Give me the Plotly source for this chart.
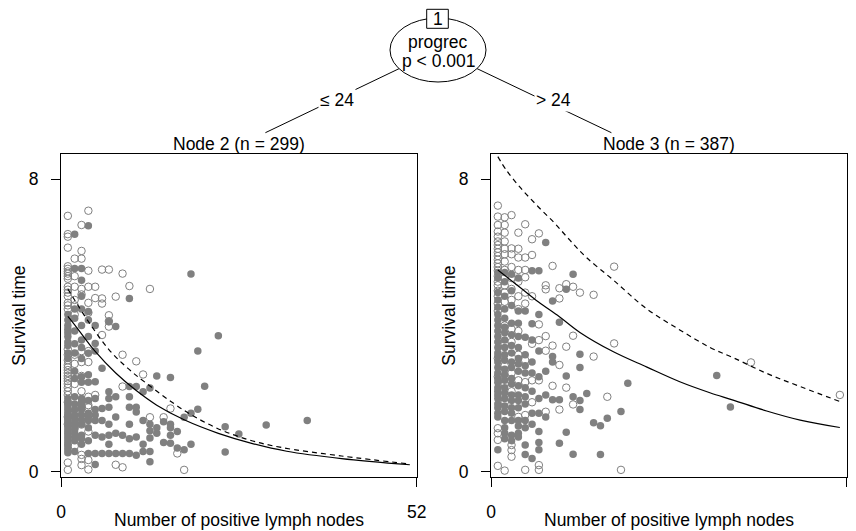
import plotly.graph_objects as go

# ---------------- data ----------------
# Node 2 (progrec <= 24): (number of positive lymph nodes, survival time)
node2_censored = [
    (1, 7.0), (1, 6.5), (1, 6.43), (1, 6.13), (1, 5.62), (1, 5.55), (1, 5.48), (1, 5.42), (1, 5.35),
    (1, 5.28), (1, 5.06), (1, 4.98), (1, 4.9), (1, 4.8), (1, 4.62), (1, 4.55), (1, 4.45), (1, 3.35),
    (1, 3.2), (1, 3.05), (1, 2.92), (1, 2.85), (1, 2.78), (1, 2.7), (1, 2.62), (1, 2.55), (1, 2.48),
    (1, 2.4), (1, 2.3), (1, 2.2), (1, 2.1), (1, 1.9), (1, 1.5), (1, 1.3), (1, 0.25), (1, 0.05),
    (2, 5.83), (2, 5.35), (2, 5.06), (2, 4.7), (2, 4.55), (2, 4.3), (2, 3.2), (2, 2.95), (2, 2.4),
    (2, 1.6), (2, 1.2), (2, 0.7),
    (3, 6.75), (3, 6.04), (3, 5.83), (3, 5.0), (3, 4.85), (3, 3.3), (3, 3.0), (3, 2.62), (3, 2.2),
    (3, 1.76), (3, 1.29), (3, 0.46), (3, 0.35), (3, 0.18),
    (4, 7.14), (4, 5.5), (4, 5.06), (4, 4.62), (4, 4.35), (4, 3.3), (4, 3.0), (4, 2.05), (4, 1.82),
    (4, 1.76), (4, 1.1), (4, 0.32), (4, 0.06),
    (5, 5.06), (5, 4.75), (5, 2.1),
    (6, 5.53), (6, 4.74), (6, 4.6), (6, 3.74),
    (7, 5.53), (7, 4.28), (7, 4.12), (7, 3.97),
    (8, 4.79), (8, 0.19),
    (9, 5.42), (9, 3.2), (9, 2.33), (9, 0.12),
    (10, 5.08), (11, 3.02), (12, 2.66), (13, 5.0), (13, 1.49), (15, 1.49), (16, 1.73), (17, 0.5), (18, 0.05),
]
node2_event = [
    (1, 4.3), (1, 4.15), (1, 4.0), (1, 3.9), (1, 3.8), (1, 3.7), (1, 3.55), (1, 3.45), (1, 3.25), (1, 3.1),
    (1, 2.0), (1, 1.9), (1, 1.85), (1, 1.78), (1, 1.7), (1, 1.62), (1, 1.55), (1, 1.48), (1, 1.42),
    (1, 1.35), (1, 1.28), (1, 1.2), (1, 1.12), (1, 1.05), (1, 0.98), (1, 0.9), (1, 0.82), (1, 0.75),
    (1, 0.68), (1, 0.6), (1, 0.52),
    (2, 6.5), (2, 5.56), (2, 4.45), (2, 4.2), (2, 3.85), (2, 3.5), (2, 3.25), (2, 2.75), (2, 2.55),
    (2, 2.05), (2, 1.85), (2, 1.7), (2, 1.55), (2, 1.45), (2, 1.35), (2, 1.25), (2, 1.15), (2, 1.05),
    (2, 0.95), (2, 0.85), (2, 0.55),
    (3, 5.56), (3, 5.24), (3, 4.8), (3, 4.45), (3, 4.0), (3, 3.6), (3, 3.4), (3, 3.1), (3, 2.6), (3, 2.45),
    (3, 2.0), (3, 1.9), (3, 1.8), (3, 1.7), (3, 1.55), (3, 1.42), (3, 1.3), (3, 1.0), (3, 0.9), (3, 0.75),
    (4, 6.73), (4, 4.38), (4, 4.15), (4, 3.7), (4, 3.24), (4, 2.65), (4, 2.45), (4, 1.95), (4, 1.6),
    (4, 1.5), (4, 1.4), (4, 1.2), (4, 0.85), (4, 0.5),
    (5, 4.0), (5, 3.51), (5, 3.3), (5, 2.46), (5, 2.0), (5, 1.7), (5, 1.55), (5, 1.4), (5, 1.0), (5, 0.5), (5, 0.2),
    (6, 2.83), (6, 1.73), (6, 1.4), (6, 0.95), (6, 0.5),
    (7, 4.1), (7, 2.19), (7, 2.0), (7, 1.76), (7, 1.3), (7, 1.0), (7, 0.75), (7, 0.5),
    (8, 3.97), (8, 2.05), (8, 1.5), (8, 1.05), (8, 0.5),
    (9, 1.0), (9, 0.5),
    (10, 4.74), (10, 2.33), (10, 2.05), (10, 1.76), (10, 1.3), (10, 0.9), (10, 0.5),
    (11, 2.33), (11, 1.76), (11, 1.63), (11, 0.95), (11, 0.45),
    (12, 2.19), (12, 1.4), (12, 0.75), (12, 0.55),
    (13, 2.29), (13, 1.3), (13, 1.12), (13, 0.92), (13, 0.55), (13, 0.27),
    (14, 2.62), (14, 1.2), (14, 1.05),
    (15, 1.37), (15, 0.8),
    (16, 2.58), (16, 1.3), (16, 1.2), (16, 1.0), (16, 0.78),
    (17, 1.1), (17, 0.65),
    (18, 1.49), (18, 0.6),
    (19, 5.41), (19, 1.6), (19, 0.75),
    (20, 3.3), (20, 1.71),
    (21, 2.34), (23, 3.72), (24, 1.23), (24, 0.54), (26, 1.03), (30, 1.28), (36, 1.4),
]

# Node 3 (progrec > 24)
node3_censored = [
    (1, 7.28), (1, 6.98), (1, 6.75), (1, 6.57), (1, 6.43), (1, 6.3), (1, 6.2), (1, 6.1), (1, 6.0), (1, 5.9),
    (1, 5.8), (1, 5.7), (1, 5.6), (1, 5.5), (1, 5.35), (1, 5.2), (1, 5.1), (1, 4.95), (1, 4.8), (1, 4.6),
    (1, 4.4), (1, 3.1), (1, 2.6), (1, 1.19), (1, 1.05), (1, 0.87), (1, 0.16),
    (2, 6.96), (2, 6.75), (2, 6.54), (2, 6.3), (2, 6.1), (2, 5.95), (2, 5.75), (2, 5.52), (2, 5.3),
    (2, 5.1), (2, 4.9), (2, 4.65), (2, 4.0), (2, 3.5), (2, 2.9), (2, 2.4), (2, 1.9), (2, 0.03),
    (3, 7.02), (3, 6.11), (3, 5.95), (3, 5.6), (3, 5.3), (3, 5.0), (3, 4.7), (3, 3.9), (3, 3.55), (3, 2.7),
    (3, 2.2), (3, 0.73), (3, 0.59), (3, 0.41),
    (4, 6.54), (4, 6.1), (4, 5.86), (4, 5.52), (4, 5.2), (4, 4.8), (4, 4.45), (4, 3.85), (4, 3.2), (4, 2.5), (4, 1.5),
    (5, 6.77), (5, 5.86), (5, 5.52), (5, 5.32), (5, 4.9), (5, 4.6), (5, 3.05), (5, 2.45), (5, 1.55), (5, 0.05),
    (6, 6.36), (6, 5.93), (6, 4.8), (6, 3.5), (6, 2.5), (6, 1.9),
    (7, 6.52), (7, 4.03), (7, 3.6), (7, 2.5), (7, 0.18), (7, 0.05),
    (8, 5.1), (8, 4.99), (8, 3.71), (8, 3.31), (8, 1.64),
    (9, 5.63), (9, 3.45), (9, 2.35),
    (10, 5.02), (10, 4.74), (10, 2.92), (10, 1.7),
    (11, 5.13), (11, 3.42), (11, 2.3),
    (12, 5.06), (12, 3.72), (12, 1.84),
    (13, 4.9), (15, 4.84), (15, 3.15), (17, 2.05), (18, 5.61), (18, 3.51), (19, 0.05),
    (38, 2.99), (51, 2.1),
]
node3_event = [
    (1, 5.45), (1, 5.3), (1, 4.9), (1, 4.7), (1, 4.5), (1, 4.3), (1, 4.15), (1, 4.0), (1, 3.85), (1, 3.7),
    (1, 3.55), (1, 3.4), (1, 3.25), (1, 3.15), (1, 3.0), (1, 2.85), (1, 2.7), (1, 2.55), (1, 2.45), (1, 2.3),
    (1, 2.2), (1, 2.1), (1, 2.0), (1, 1.85), (1, 1.75), (1, 1.6), (1, 1.5), (1, 0.6),
    (2, 5.45), (2, 5.2), (2, 4.8), (2, 4.45), (2, 4.2), (2, 3.95), (2, 3.8), (2, 3.6), (2, 3.4), (2, 3.2),
    (2, 3.05), (2, 2.8), (2, 2.65), (2, 2.5), (2, 2.3), (2, 2.15), (2, 2.0), (2, 1.8), (2, 1.65), (2, 1.4),
    (2, 1.2), (2, 1.05), (2, 0.9),
    (3, 5.4), (3, 4.95), (3, 4.55), (3, 4.06), (3, 3.75), (3, 3.45), (3, 3.25), (3, 3.0), (3, 2.85), (3, 2.55),
    (3, 2.4), (3, 2.1), (3, 1.95), (3, 1.75), (3, 1.6), (3, 1.4), (3, 1.0), (3, 0.85),
    (4, 5.3), (4, 4.4), (4, 4.06), (4, 3.7), (4, 3.4), (4, 3.1), (4, 2.95), (4, 2.75), (4, 2.35), (4, 2.1),
    (4, 1.95), (4, 1.75), (4, 1.4), (4, 1.25), (4, 1.05), (4, 0.95),
    (5, 4.4), (5, 3.68), (5, 3.2), (5, 2.9), (5, 2.7), (5, 2.3), (5, 2.05), (5, 1.85), (5, 1.4), (5, 1.2), (5, 0.73), (5, 0.47),
    (6, 5.5), (6, 4.05), (6, 3.6), (6, 3.0), (6, 2.7), (6, 2.2), (6, 1.6), (6, 1.3), (6, 0.36),
    (7, 5.5), (7, 4.3), (7, 3.3), (7, 2.6), (7, 2.0), (7, 1.6), (7, 1.1), (7, 0.8), (7, 0.6),
    (8, 6.27), (8, 2.75), (8, 2.1), (8, 1.5),
    (9, 4.67), (9, 3.15), (9, 3.0), (9, 1.97),
    (10, 4.09), (10, 1.97), (10, 0.78),
    (11, 4.99), (11, 2.62), (11, 1.08),
    (12, 5.4), (12, 2.05), (12, 0.48),
    (13, 3.21), (13, 2.85), (13, 1.95), (13, 1.7),
    (14, 2.14), (15, 1.34), (16, 1.26), (16, 0.47), (17, 1.46), (19, 1.65), (20, 2.42), (33, 2.63), (35, 1.77),
]

# fitted curves
node2_solid_x = [1, 2, 5, 8, 11, 14, 18, 23, 28, 33, 41, 51]
node2_solid_y = [4.25, 4.02, 3.29, 2.70, 2.22, 1.82, 1.42, 1.05, 0.77, 0.56, 0.36, 0.19]
node2_dashed_x = [1, 4, 7, 9.7, 12.4, 17.9, 22.8, 27.5, 32, 41, 51]
node2_dashed_y = [5.0, 4.11, 3.34, 2.84, 2.43, 1.69, 1.19, 0.87, 0.67, 0.43, 0.21]
node3_solid_x = [1, 4.4, 6.9, 10, 13, 17.9, 22.8, 27.6, 32, 35.4, 40.3, 45.2, 51]
node3_solid_y = [5.52, 5.02, 4.65, 4.24, 3.81, 3.28, 2.86, 2.46, 2.16, 1.96, 1.66, 1.41, 1.21]
node3_dashed_x = [1, 2.24, 4.4, 6.9, 9.3, 11.5, 13.9, 17.9, 22.8, 27.6, 32, 35.4, 40.3, 45.2, 51]
node3_dashed_y = [8.62, 8.25, 7.75, 7.25, 6.8, 6.34, 5.87, 5.24, 4.45, 3.88, 3.4, 3.12, 2.69, 2.33, 1.92]

x_ticks = [0, 52]
y_ticks = [0, 8]
x_title = "Number of positive lymph nodes"
y_title = "Survival time"
node_titles = ["Node 2 (n = 299)", "Node 3 (n = 387)"]
split_var = "progrec"
split_p = "p < 0.001"
split_labels = ["≤ 24", "> 24"]

# ---------------- figure ----------------
W, H = 856, 531
FONT = "Liberation Sans, Arial, Helvetica, sans-serif"
FS = 17.5
GREY = "rgb(128,128,128)"


def px(x):
    return x / W


def py(y):
    return 1 - y / H


fig = go.Figure()

panels = [
    ("x", "y", node2_censored, node2_event, node2_solid_x, node2_solid_y, node2_dashed_x, node2_dashed_y),
    ("x2", "y2", node3_censored, node3_event, node3_solid_x, node3_solid_y, node3_dashed_x, node3_dashed_y),
]
for xa, ya, cens, evt, sx, sy, dx, dy in panels:
    fig.add_trace(go.Scatter(
        x=[p[0] for p in cens], y=[p[1] for p in cens], mode="markers", xaxis=xa, yaxis=ya,
        marker=dict(symbol="circle-open", size=7.5, color=GREY, line=dict(width=1, color=GREY)),
        showlegend=False, hoverinfo="skip", cliponaxis=True))
    fig.add_trace(go.Scatter(
        x=[p[0] for p in evt], y=[p[1] for p in evt], mode="markers", xaxis=xa, yaxis=ya,
        marker=dict(symbol="circle", size=7.5, color=GREY, line=dict(width=0)),
        showlegend=False, hoverinfo="skip", cliponaxis=True))
    fig.add_trace(go.Scatter(
        x=sx, y=sy, mode="lines", xaxis=xa, yaxis=ya, line=dict(color="black", width=1.2, shape="spline"),
        showlegend=False, hoverinfo="skip"))
    fig.add_trace(go.Scatter(
        x=dx, y=dy, mode="lines", xaxis=xa, yaxis=ya,
        line=dict(color="black", width=1.2, shape="spline", dash="5px,4px"),
        showlegend=False, hoverinfo="skip"))

# panel geometry (pixels)
box_top, box_bottom = 154.3, 477.0
left_box = (61.0, 416.7)
right_box = (491.0, 846.7)

xaxis_common = dict(
    range=[0, 52], tickvals=x_ticks, ticktext=[str(v) for v in x_ticks], ticks="outside", ticklen=9,
    tickwidth=1, tickcolor="black", showline=True, linecolor="black", linewidth=1, mirror=True,
    showgrid=False, zeroline=False, tickfont=dict(family=FONT, size=FS, color="black"),
    ticklabelstandoff=10, fixedrange=True, automargin=False)
yaxis_common = dict(
    range=[-0.145, 8.684], tickvals=y_ticks, ticktext=[str(v) for v in y_ticks], ticks="outside", ticklen=9,
    tickwidth=1, tickcolor="black", showline=True, linecolor="black", linewidth=1, mirror=True,
    showgrid=False, zeroline=False, tickfont=dict(family=FONT, size=FS, color="black"),
    ticklabelstandoff=9, fixedrange=True, automargin=False)

fig.update_layout(
    template="none",
    width=W, height=H, autosize=False,
    margin=dict(l=0, r=0, t=0, b=0, pad=0),
    paper_bgcolor="white", plot_bgcolor="white",
    font=dict(family=FONT, size=FS, color="black"),
    xaxis=dict(domain=[px(left_box[0]), px(left_box[1])], anchor="y", **xaxis_common),
    yaxis=dict(domain=[py(box_bottom), py(box_top)], anchor="x", **yaxis_common),
    xaxis2=dict(domain=[px(right_box[0]), px(right_box[1])], anchor="y2", **xaxis_common),
    yaxis2=dict(domain=[py(box_bottom), py(box_top)], anchor="x2", **yaxis_common),
)

# tree drawing (shapes in pixel geometry -> paper)
root = (438.0, 50.0)
edge_ends = [(265.4, 132.7), (611.4, 132.7)]
shapes = []
for ex, ey in edge_ends:
    shapes.append(dict(type="line", xref="paper", yref="paper", x0=px(root[0]), y0=py(root[1]),
                       x1=px(ex), y1=py(ey), line=dict(color="black", width=1)))
shapes.append(dict(type="circle", xref="paper", yref="paper", x0=px(390), x1=px(486), y0=py(18), y1=py(82),
                   fillcolor="white", line=dict(color="black", width=1)))
shapes.append(dict(type="rect", xref="paper", yref="paper", x0=px(426.7), x1=px(448.3), y0=py(9.3), y1=py(28.3),
                   fillcolor="white", line=dict(color="black", width=1)))
fig.update_layout(shapes=shapes)

annots = []


def ann(text, x, y, bg=None, angle=0):
    d = dict(text=text, xref="paper", yref="paper", x=px(x), y=py(y), xanchor="center", yanchor="middle",
             showarrow=False, font=dict(family=FONT, size=FS, color="black"), textangle=angle)
    if bg:
        d.update(bgcolor=bg, borderpad=1)
    annots.append(d)


ann("1", 437.5, 19.0)
ann(split_var, 438, 41.5)
ann(split_p, 438, 61.5)
ann(split_labels[0], 336.5, 100.5, bg="white")
ann(split_labels[1], 553.5, 100.5, bg="white")
ann(node_titles[0], (left_box[0] + left_box[1]) / 2, 143.5)
ann(node_titles[1], (right_box[0] + right_box[1]) / 2, 143.5)
for (bx0, bx1) in (left_box, right_box):
    ann(x_title, (bx0 + bx1) / 2, 520)
    ann(y_title, bx0 - 42, (box_top + box_bottom) / 2, angle=-90)
fig.update_layout(annotations=annots)

fig.write_html("out.html", config={"displayModeBar": False},
               post_script="document.body.style.margin='0';document.body.style.overflow='hidden';")
